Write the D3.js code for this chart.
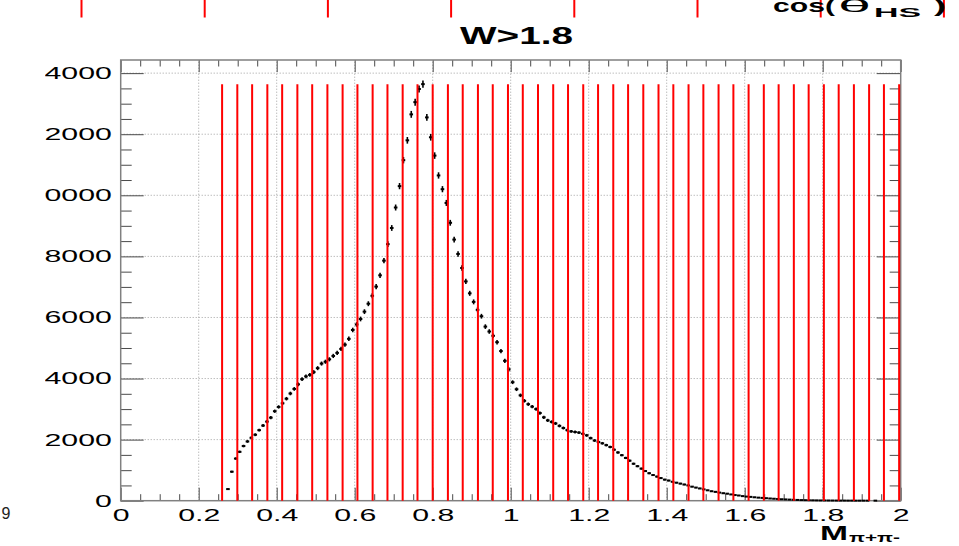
<!DOCTYPE html>
<html>
<head>
<meta charset="utf-8">
<script src="https://cdn.jsdelivr.net/npm/d3@7"></script>
<style>
  body { margin: 0; background: #fff; }
  svg { display: block; }
  text { font-family: "Liberation Sans", Arial, Helvetica, sans-serif; }
</style>
</head>
<body>
<svg id="chart" width="959" height="546"></svg>
<script>
// histogram of M(pi+pi-) for W>1.8, bins of 0.01 starting at 0.27
var binStart = 0.27, binWidth = 0.01;
var counts = [
  380, 950, 1380, 1600, 1790, 1940, 2060, 2160, 2310, 2460,
  2590, 2720, 2930, 3070, 3190, 3340, 3510, 3660, 3810, 3980,
  4070, 4120, 4210, 4340, 4490, 4550, 4630, 4740, 4840, 4970,
  5110, 5300, 5590, 5770, 5950, 6190, 6450, 6710, 7010, 7380,
  7860, 8400, 8930, 9600, 10300, 11150, 11800, 12650, 13050, 13480,
  13640, 12550, 11900, 11300, 10650, 10200, 9750, 9100, 8550, 8080,
  7620, 7180, 6790, 6510, 6250, 6040, 5700, 5540, 5400, 5190,
  4900, 4580, 4300, 3880, 3650, 3450, 3270, 3160, 3080, 3000,
  2870, 2730, 2630, 2580, 2530, 2450, 2380, 2310, 2270, 2250,
  2230, 2190, 2140, 2050, 1970, 1920, 1880, 1820, 1760, 1670,
  1580, 1490, 1400, 1310, 1210, 1130, 1050, 970, 900, 840,
  790, 740, 690, 660, 620, 590, 560, 530, 500, 460,
  430, 400, 370, 340, 310, 290, 265, 245, 230, 205,
  185, 170, 150, 135, 125, 112, 100, 92, 82, 72,
  64, 56, 48, 42, 36, 30, 25, 20, 17, 14,
  12, 10, 8, 7, 6, 5, 4, 3, 3, 2,
  2, 1, 1, 1, 1, 0, 1, 0, 0, 0,
  0, 0, 0
];

// red lines: mass bin edges used for the analysis
var massEdges = [
  0.260, 0.299, 0.337, 0.376, 0.414, 0.453, 0.491, 0.530, 0.569, 0.607,
  0.646, 0.684, 0.723, 0.761, 0.800, 0.839, 0.877, 0.916, 0.954, 0.993,
  1.031, 1.070, 1.109, 1.147, 1.186, 1.224, 1.263, 1.301, 1.340, 1.379,
  1.417, 1.456, 1.494, 1.533, 1.571, 1.610, 1.649, 1.687, 1.726, 1.764,
  1.803, 1.841, 1.880, 1.919, 1.957, 1.996
];
// red lines of the cos(theta_HS) pad above (only its bottom is visible)
var cosEdges = [-0.75, -0.5, -0.25, 0, 0.25, 0.5, 0.75, 1.0];

var xMajor = [0, 0.2, 0.4, 0.6, 0.8, 1.0, 1.2, 1.4, 1.6, 1.8, 2.0];
var xLabels = ["0", "0.2", "0.4", "0.6", "0.8", "1", "1.2", "1.4", "1.6", "1.8", "2"];
var yMajor = [0, 2000, 4000, 6000, 8000, 10000, 12000, 14000];
var yLabels = ["0", "2000", "4000", "6000", "8000", "10000", "12000", "14000"];

var svg = d3.select("#chart");
var sx = 1.78; // picture is stretched sideways

var x = d3.scaleLinear().domain([0, 2]).range([120.7, 900.7]);
var y = d3.scaleLinear().domain([0, 14430]).range([500.7, 60]);
var xCos = d3.scaleLinear().domain([-1, 1]).range([-41.7, 943.9]);

var xMinor = d3.range(0, 2.0001, 0.05).filter(function (v) {
    return Math.abs(v / 0.2 - Math.round(v / 0.2)) > 1e-6;
});
var yMinor = d3.range(0, 14430, 500).filter(function (v) { return v % 2000 !== 0; });

svg.append("defs").append("clipPath").attr("id", "padclip")
    .append("rect").attr("x", 45).attr("y", 0).attr("width", 914).attr("height", 546);

var pad = svg.append("g").attr("clip-path", "url(#padclip)");

// grid
pad.append("g").selectAll("line")
    .data(xMajor.slice(1, -1))
    .enter().append("line")
    .attr("x1", function (d) { return x(d); })
    .attr("x2", function (d) { return x(d); })
    .attr("y1", y.range()[0])
    .attr("y2", y.range()[1])
    .attr("stroke", "#a0a0a0")
    .attr("stroke-dasharray", "1,2");

pad.append("g").selectAll("line")
    .data(yMajor.slice(1))
    .enter().append("line")
    .attr("x1", x.range()[0])
    .attr("x2", x.range()[1])
    .attr("y1", function (d) { return y(d); })
    .attr("y2", function (d) { return y(d); })
    .attr("stroke", "#a0a0a0")
    .attr("stroke-dasharray", "1,2");

// axes, ticks pointing inwards
function noDomain(g) { g.select(".domain").remove(); }

var bottomAx = pad.append("g").attr("transform", "translate(0," + y(0) + ")");
bottomAx.call(d3.axisBottom(x).tickValues(xMinor).tickSize(-6.5).tickFormat("")).call(noDomain);
var bottomMajor = pad.append("g").attr("transform", "translate(0," + y(0) + ")");
bottomMajor.call(d3.axisBottom(x).tickValues(xMajor).tickSize(-13).tickPadding(8)
    .tickFormat(function (d, i) { return xLabels[i]; })).call(noDomain);

var topAx = pad.append("g").attr("transform", "translate(0," + y.range()[1] + ")");
topAx.call(d3.axisTop(x).tickValues(xMinor).tickSize(-6.5).tickFormat("")).call(noDomain);
topAx.append("g").call(d3.axisTop(x).tickValues(xMajor).tickSize(-12).tickFormat("")).call(noDomain);

var leftAx = pad.append("g").attr("transform", "translate(" + x(0) + ",0)");
leftAx.call(d3.axisLeft(y).tickValues(yMinor).tickSize(-11).tickFormat("")).call(noDomain);
var leftMajor = pad.append("g").attr("transform", "translate(" + x(0) + ",0)");
leftMajor.call(d3.axisLeft(y).tickValues(yMajor).tickSize(-23).tickPadding(5)
    .tickFormat(function (d, i) { return yLabels[i]; })).call(noDomain);

var rightAx = pad.append("g").attr("transform", "translate(" + x(2) + ",0)");
rightAx.call(d3.axisRight(y).tickValues(yMinor).tickSize(-11).tickFormat("")).call(noDomain);
rightAx.append("g").call(d3.axisRight(y).tickValues(yMajor).tickSize(-24).tickFormat("")).call(noDomain);

pad.selectAll(".tick line").attr("stroke", "#4a4a4a").attr("stroke-width", 1);
pad.selectAll(".tick text")
    .attr("fill", "#000")
    .attr("font-size", 17)
    .attr("font-family", "'Liberation Sans', Arial, sans-serif")
    .attr("transform", "scale(" + sx + ",1)");

// frame
pad.append("rect")
    .attr("x", x(0)).attr("y", y.range()[1])
    .attr("width", x(2) - x(0)).attr("height", y(0) - y.range()[1])
    .attr("fill", "none").attr("stroke", "#808080").attr("stroke-width", 1.5);

// histogram points with error bars
var bins = counts.map(function (c, i) {
    return { m: binStart + binWidth * (i + 0.5), n: c };
}).filter(function (d) { return d.n > 0; });

var pts = pad.append("g").attr("class", "points");
pts.selectAll("line")
    .data(bins)
    .enter().append("line")
    .attr("x1", function (d) { return x(d.m); })
    .attr("x2", function (d) { return x(d.m); })
    .attr("y1", function (d) { return y(d.n - Math.sqrt(d.n)); })
    .attr("y2", function (d) { return y(d.n + Math.sqrt(d.n)); })
    .attr("stroke", "#000")
    .attr("stroke-width", 1.6);
pts.selectAll("rect")
    .data(bins)
    .enter().append("rect")
    .attr("x", function (d) { return x(d.m) - 1.8; })
    .attr("y", function (d) { return y(d.n) - 1; })
    .attr("width", 3.6)
    .attr("height", 2)
    .attr("fill", "#000");

// red mass edges, drawn up to the histogram maximum
var hmax = d3.max(counts);
pad.append("g").selectAll("line")
    .data(massEdges)
    .enter().append("line")
    .attr("x1", function (d) { return x(d); })
    .attr("x2", function (d) { return x(d); })
    .attr("y1", y(0))
    .attr("y2", y(hmax))
    .attr("stroke", "#ff0000")
    .attr("stroke-width", 2);

// remains of the pad above
svg.append("g").selectAll("line")
    .data(cosEdges)
    .enter().append("line")
    .attr("x1", function (d) { return xCos(d); })
    .attr("x2", function (d) { return xCos(d); })
    .attr("y1", 0)
    .attr("y2", 17.5)
    .attr("stroke", "#ff0000")
    .attr("stroke-width", 2);

function txt(g, px, py, s, size, weight, width, anchor) {
    return g.append("text")
        .attr("x", px).attr("y", py)
        .attr("font-size", size)
        .attr("font-weight", weight)
        .attr("text-anchor", anchor || "start")
        .attr("textLength", width)
        .attr("lengthAdjust", "spacingAndGlyphs")
        .text(s);
}

var labels = svg.append("g");
txt(labels, 773, 12, "cos(", 18, "bold", 62);
txt(labels, 838, 12, "\u03b8", 18, "normal", 33);
txt(labels, 874, 16.5, "HS", 12, "bold", 47);
txt(labels, 934, 12, ")", 18, "bold", 12);

txt(labels, 460, 43.5, "W>1.8", 23, "bold", 113);

txt(labels, 820, 539.5, "M", 20, "bold", 28);
txt(labels, 849, 542, "\u03c0+\u03c0-", 13, "bold", 51);

labels.append("text")
    .attr("x", 1.5).attr("y", 518.5)
    .attr("font-size", 16)
    .attr("fill", "#222")
    .text("9");
</script>
</body>
</html>
